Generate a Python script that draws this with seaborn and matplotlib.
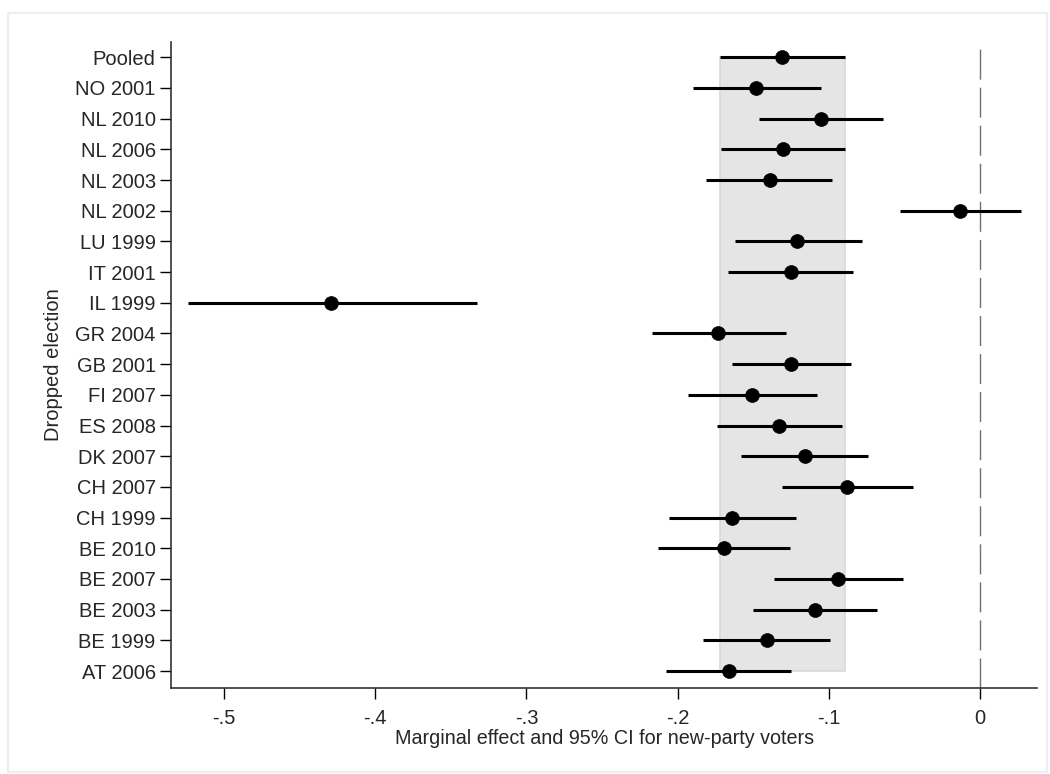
import matplotlib
matplotlib.use("Agg")
import matplotlib.pyplot as plt
import seaborn as sns
import pandas as pd
import numpy as np
from matplotlib.patches import Rectangle

# ---- data (top to bottom) ----
labels = ["Pooled", "NO 2001", "NL 2010", "NL 2006", "NL 2003", "NL 2002", "LU 1999",
          "IT 2001", "IL 1999", "GR 2004", "GB 2001", "FI 2007", "ES 2008", "DK 2007",
          "CH 2007", "CH 1999", "BE 2010", "BE 2007", "BE 2003", "BE 1999", "AT 2006"]
estimates = [-0.131, -0.148, -0.105, -0.130, -0.139, -0.013, -0.121,
             -0.125, -0.429, -0.173, -0.125, -0.151, -0.133, -0.116,
             -0.088, -0.164, -0.169, -0.094, -0.109, -0.141, -0.166]
ci_low = [-0.172, -0.190, -0.146, -0.171, -0.181, -0.053, -0.162,
          -0.167, -0.524, -0.217, -0.164, -0.193, -0.174, -0.158,
          -0.131, -0.206, -0.213, -0.136, -0.150, -0.183, -0.208]
ci_high = [-0.089, -0.105, -0.064, -0.089, -0.098, 0.027, -0.078,
           -0.084, -0.333, -0.128, -0.085, -0.108, -0.091, -0.074,
           -0.044, -0.122, -0.126, -0.051, -0.068, -0.099, -0.125]
xticks = [-0.5, -0.4, -0.3, -0.2, -0.1, 0.0]
xticklabels = ["-.5", "-.4", "-.3", "-.2", "-.1", "0"]

df = pd.DataFrame({"label": labels, "est": estimates, "lo": ci_low, "hi": ci_high})
n = len(df)
df["pos"] = (n - 1) - np.arange(n)

sns.set_theme(style="white")
plt.rcParams["font.family"] = ["Liberation Sans", "DejaVu Sans"]

fig = plt.figure(figsize=(10.5, 7.74), dpi=100)
# outer light frame (graph region)
fig.patches.append(Rectangle((8 / 1050, 1 - 772 / 774), (1047 - 8) / 1050, (772 - 13) / 774,
                             transform=fig.transFigure, fill=False,
                             edgecolor="#e9eff3", linewidth=1.5, zorder=0))
ax = fig.add_axes([171 / 1050, 1 - 688 / 774, (1037.3 - 171) / 1050, (688 - 41.7) / 774])

# pooled CI band
pooled = df.iloc[0]
ax.fill_betweenx([df["pos"].min(), df["pos"].max()], pooled["lo"], pooled["hi"],
                 facecolor="#e5e5e5", edgecolor="#d8d8d8", linewidth=1.2, zorder=1)

# reference line at zero
ax.axvline(0, color="#707070", linewidth=1.0, dashes=(21.6, 5.8), zorder=1)

# CIs
ax.hlines(df["pos"], df["lo"], df["hi"], color="black", linewidth=2.2, zorder=2)
# points
sns.scatterplot(data=df, x="est", y="pos", ax=ax, color="black", s=100,
                edgecolor="black", linewidth=0.5, zorder=3, legend=False)

ax.set_xlim(-0.5351, 0.0379)
ax.set_ylim(-0.554, 20.508)
ax.set_xticks(xticks)
ax.set_xticklabels(xticklabels)
ax.set_yticks(df["pos"])
ax.set_yticklabels(df["label"])

for s in ["top", "right"]:
    ax.spines[s].set_visible(False)
for s in ["left", "bottom"]:
    ax.spines[s].set_color("#333333")
    ax.spines[s].set_linewidth(1.2)

ax.tick_params(axis="both", which="major", direction="out", length=8, width=1.0,
               color="black", labelsize=14.5, pad=3, left=True, bottom=True)
ax.tick_params(axis="x", pad=7)

ax.set_xlabel("Marginal effect and 95% CI for new-party voters", fontsize=14.2, labelpad=1)
ax.set_ylabel("Dropped election", fontsize=14.5, labelpad=9)

fig.savefig("out.png", dpi=100, facecolor="white")
